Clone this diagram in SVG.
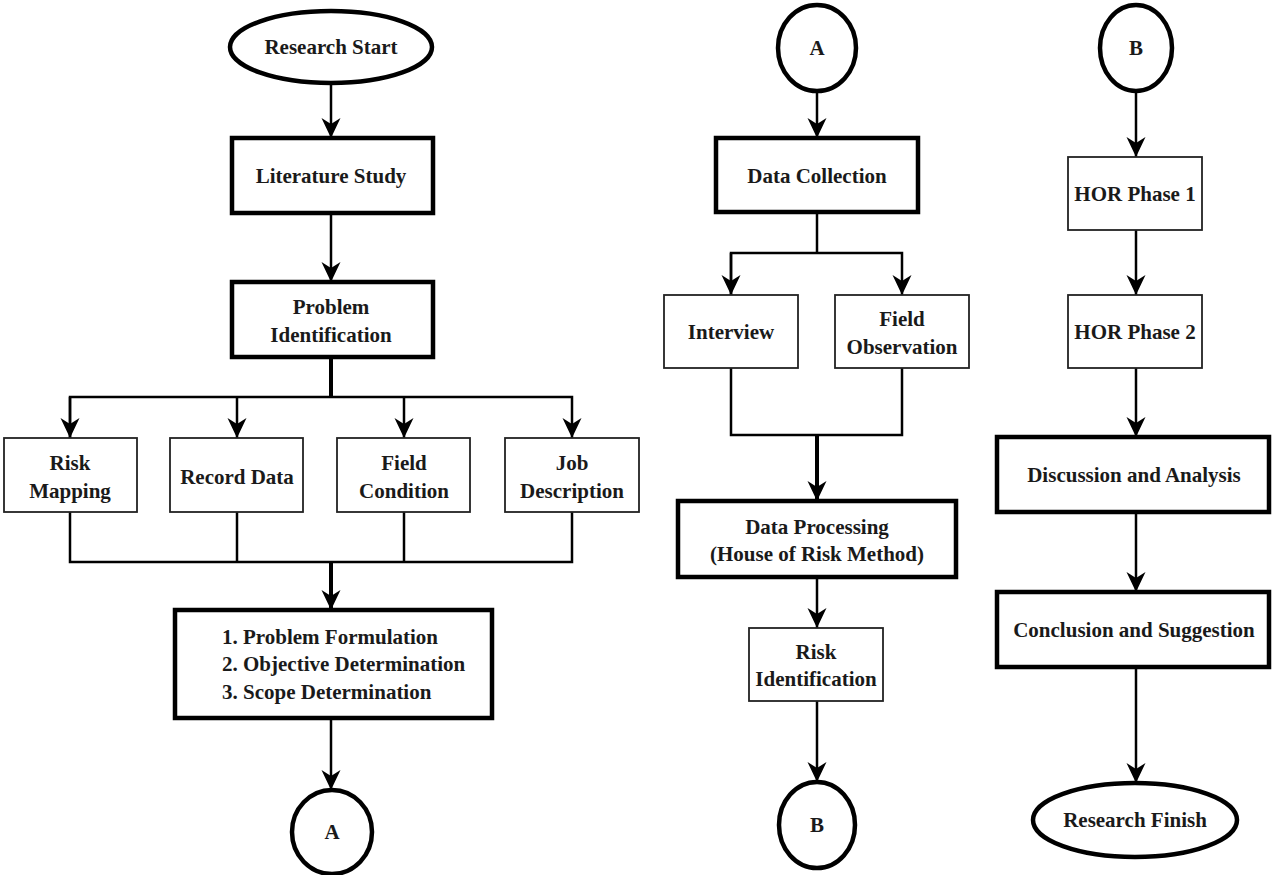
<svg xmlns="http://www.w3.org/2000/svg" width="1272" height="875" viewBox="0 0 1272 875">
<style>
.t{font-family:"Liberation Serif","Times New Roman",serif;font-size:21px;font-weight:bold;fill:#1a1a1a;text-anchor:middle;dominant-baseline:central}
.tl{text-anchor:start}
.thick{fill:#fff;stroke:#000;stroke-width:4.5}
.thin{fill:#fff;stroke:#222;stroke-width:1.8}
.c{fill:none;stroke:#000;stroke-width:2.5}
.cb{fill:none;stroke:#000;stroke-width:4}
</style>
<defs>
<marker id="ah" viewBox="0 0 20 20" refX="20" refY="10" markerWidth="20" markerHeight="20" markerUnits="userSpaceOnUse" orient="auto">
<path d="M0,0.5 L20,10 L0,19.5 L6,10 Z" fill="#000"/>
</marker>
</defs>
<rect width="1272" height="875" fill="#fff"/>
<g id="connectors">
<path class="c" d="M331,83 V138" marker-end="url(#ah)"/>
<path class="c" d="M331,213 V282" marker-end="url(#ah)"/>
<path class="cb" d="M331,357 V397"/>
<path class="c" d="M70,438 V397 H572 V438" marker-end="url(#ah)"/>
<path class="c" d="M70,397 V438" marker-end="url(#ah)"/>
<path class="c" d="M237,397 V438" marker-end="url(#ah)"/>
<path class="c" d="M404,397 V438" marker-end="url(#ah)"/>
<path class="c" d="M70,512 V562 H572 V512"/>
<path class="c" d="M237,512 V562"/>
<path class="c" d="M404,512 V562"/>
<path class="cb" d="M331,562 V610" marker-end="url(#ah)"/>
<path class="c" d="M331,718 V790" marker-end="url(#ah)"/>
<path class="c" d="M817,91 V138" marker-end="url(#ah)"/>
<path class="c" d="M817,212 V253"/>
<path class="c" d="M731,295 V253 H902 V295" marker-end="url(#ah)"/>
<path class="c" d="M731,253 V295" marker-end="url(#ah)"/>
<path class="c" d="M731,368 V435 H902 V368"/>
<path class="cb" d="M817,435 V501" marker-end="url(#ah)"/>
<path class="c" d="M817,577 V628" marker-end="url(#ah)"/>
<path class="c" d="M817,701 V782" marker-end="url(#ah)"/>
<path class="c" d="M1136,91 V157" marker-end="url(#ah)"/>
<path class="c" d="M1136,230 V295" marker-end="url(#ah)"/>
<path class="c" d="M1136,368 V437" marker-end="url(#ah)"/>
<path class="c" d="M1136,512 V592" marker-end="url(#ah)"/>
<path class="c" d="M1136,667 V783" marker-end="url(#ah)"/>
</g>
<g id="research-start"><ellipse class="thick" cx="331" cy="47" rx="101" ry="36"/><text class="t" x="331" y="47">Research Start</text></g>
<g id="literature-study"><rect class="thick" x="232" y="138" width="201" height="75"/><text class="t" x="331" y="176">Literature Study</text></g>
<g id="problem-identification"><rect class="thick" x="232" y="282" width="201" height="75"/><text class="t" x="331" y="307">Problem</text><text class="t" x="331" y="335">Identification</text></g>
<g id="risk-mapping"><rect class="thin" x="4" y="438" width="133" height="74"/><text class="t" x="70" y="463">Risk</text><text class="t" x="70" y="491">Mapping</text></g>
<g id="record-data"><rect class="thin" x="170" y="438" width="133" height="74"/><text class="t" x="237" y="477">Record Data</text></g>
<g id="field-condition"><rect class="thin" x="337" y="438" width="133" height="74"/><text class="t" x="404" y="463">Field</text><text class="t" x="404" y="491">Condition</text></g>
<g id="job-description"><rect class="thin" x="505" y="438" width="134" height="74"/><text class="t" x="572" y="463">Job</text><text class="t" x="572" y="491">Description</text></g>
<g id="formulation"><rect class="thick" x="175" y="610" width="317" height="108"/><text class="t tl" x="222" y="637">1. Problem Formulation</text><text class="t tl" x="222" y="664">2. Objective Determination</text><text class="t tl" x="222" y="692">3. Scope Determination</text></g>
<g id="connector-a-out"><ellipse class="thick" cx="332" cy="832" rx="40" ry="42"/><text class="t" x="332" y="832">A</text></g>
<g id="connector-a-in"><ellipse class="thick" cx="817" cy="48" rx="39" ry="43"/><text class="t" x="817" y="48">A</text></g>
<g id="data-collection"><rect class="thick" x="716" y="138" width="202" height="74"/><text class="t" x="817" y="176">Data Collection</text></g>
<g id="interview"><rect class="thin" x="664" y="295" width="134" height="73"/><text class="t" x="731" y="332">Interview</text></g>
<g id="field-observation"><rect class="thin" x="835" y="295" width="134" height="73"/><text class="t" x="902" y="319">Field</text><text class="t" x="902" y="347">Observation</text></g>
<g id="data-processing"><rect class="thick" x="678" y="501" width="278" height="76"/><text class="t" x="817" y="527">Data Processing</text><text class="t" x="817" y="554">(House of Risk Method)</text></g>
<g id="risk-identification"><rect class="thin" x="749" y="628" width="134" height="73"/><text class="t" x="816" y="652">Risk</text><text class="t" x="816" y="679">Identification</text></g>
<g id="connector-b-out"><ellipse class="thick" cx="817" cy="825" rx="38" ry="43"/><text class="t" x="817" y="825">B</text></g>
<g id="connector-b-in"><ellipse class="thick" cx="1136" cy="48" rx="36" ry="43"/><text class="t" x="1136" y="48">B</text></g>
<g id="hor-phase-1"><rect class="thin" x="1068" y="157" width="134" height="73"/><text class="t" x="1135" y="194">HOR Phase 1</text></g>
<g id="hor-phase-2"><rect class="thin" x="1068" y="295" width="134" height="73"/><text class="t" x="1135" y="332">HOR Phase 2</text></g>
<g id="discussion"><rect class="thick" x="997" y="437" width="272" height="75"/><text class="t" x="1134" y="475">Discussion and Analysis</text></g>
<g id="conclusion"><rect class="thick" x="997" y="592" width="272" height="75"/><text class="t" x="1134" y="630">Conclusion and Suggestion</text></g>
<g id="research-finish"><ellipse class="thick" cx="1135" cy="820" rx="102" ry="37"/><text class="t" x="1135" y="820">Research Finish</text></g>
</svg>
